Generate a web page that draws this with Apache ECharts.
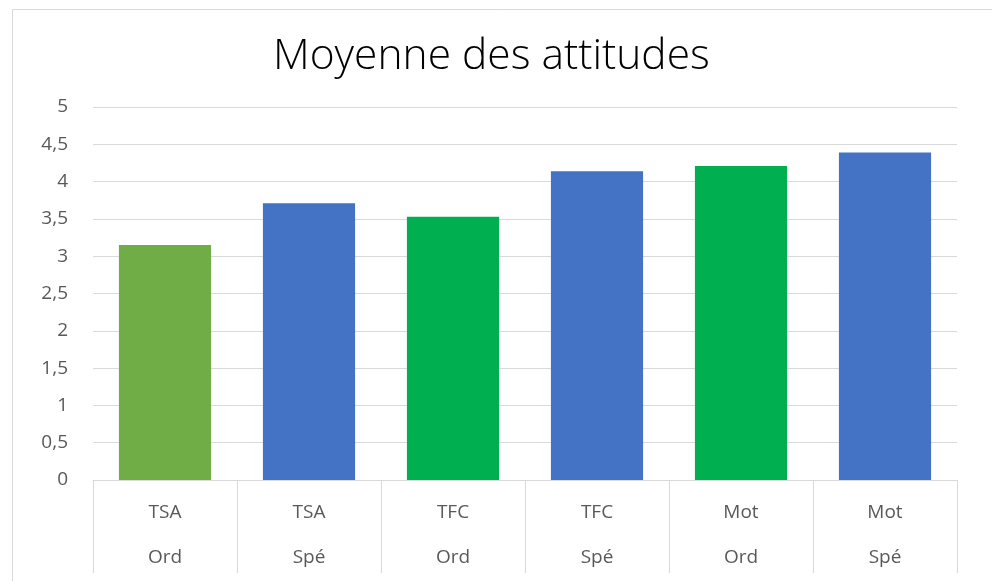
<!DOCTYPE html>
<html>
<head>
<meta charset="utf-8">
<script src="https://cdn.jsdelivr.net/npm/echarts@6/dist/echarts.min.js"></script>
<style>
html,body{margin:0;padding:0;background:#fff;}
#chart{width:992px;height:581px;}
</style>
</head>
<body>
<div id="chart"></div>
<script>
var groups = ['TSA', 'TSA', 'TFC', 'TFC', 'Mot', 'Mot'];
var subgroups = ['Ord', 'Spé', 'Ord', 'Spé', 'Ord', 'Spé'];
var values = [3.15, 3.71, 3.53, 4.14, 4.21, 4.39];
var barColors = ['#70AD47', '#4472C4', '#00B050', '#4472C4', '#00B050', '#4472C4'];
var titleText = 'Moyenne des attitudes';
var yTicks = { min: 0, max: 5, interval: 0.5 };

var FONT = "'Open Sans', sans-serif";
var categories = groups.map(function (g, i) { return g + '\n' + subgroups[i]; });

var chart = echarts.init(document.getElementById('chart'));
chart.setOption({
  animation: false,
  backgroundColor: '#fff',
  graphic: [{
    type: 'rect',
    shape: { x: 12.5, y: 9.5, width: 1000, height: 600 },
    style: { fill: 'none', stroke: '#d9d9d9', lineWidth: 1 },
    silent: true
  }],
  title: {
    text: titleText,
    left: 268,
    top: 30,
    textStyle: { fontFamily: FONT, fontWeight: 300, fontSize: 42.5, color: '#000' }
  },
  grid: { left: 93, right: 35, top: 107, bottom: 101, containLabel: false },
  xAxis: {
    type: 'category',
    data: categories,
    axisLine: { lineStyle: { color: '#d9d9d9', width: 1 } },
    axisTick: { show: true, interval: 0, length: 93, lineStyle: { color: '#d9d9d9', width: 1 } },
    axisLabel: {
      interval: 0, margin: 10, color: '#595959',
      fontFamily: FONT, fontSize: 19, lineHeight: 45
    }
  },
  yAxis: {
    type: 'value',
    min: yTicks.min, max: yTicks.max, interval: yTicks.interval,
    axisLine: { show: false },
    axisTick: { show: false },
    splitLine: { lineStyle: { color: '#d9d9d9', width: 1 } },
    axisLabel: {
      margin: 25, color: '#595959', fontFamily: FONT, fontSize: 19,
      formatter: function (v) { return String(v).replace('.', ','); }
    }
  },
  series: [{
    type: 'bar',
    data: values.map(function (v, i) { return { value: v, itemStyle: { color: barColors[i] } }; }),
    barWidth: '64%'
  }]
});
</script>
</body>
</html>
